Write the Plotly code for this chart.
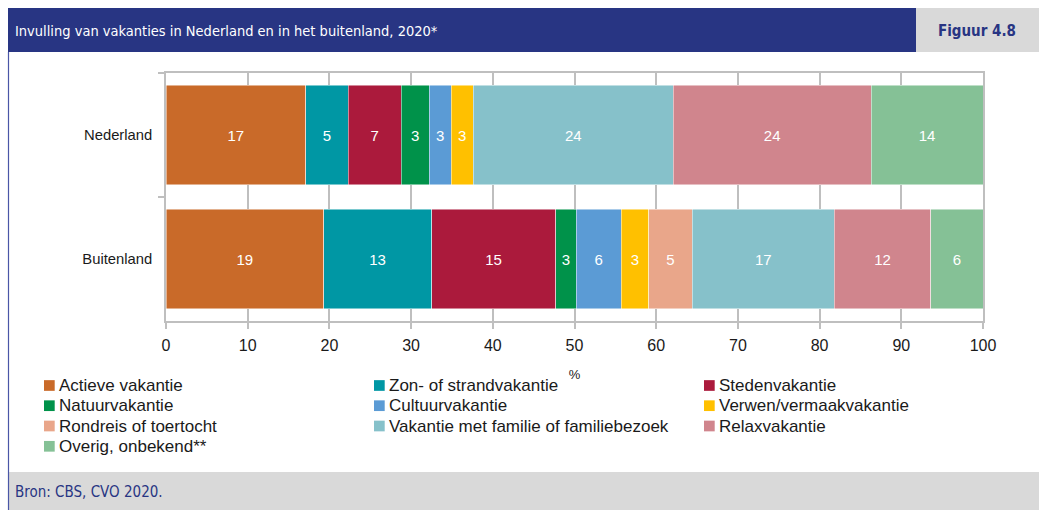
import plotly.graph_objects as go

# ---- data ----
categories = ["Nederland", "Buitenland"]
series_names = [
    "Actieve vakantie", "Zon- of strandvakantie", "Stedenvakantie",
    "Natuurvakantie", "Cultuurvakantie", "Verwen/vermaakvakantie",
    "Rondreis of toertocht", "Vakantie met familie of familiebezoek",
    "Relaxvakantie", "Overig, onbekend**",
]
nederland = [17.1, 5.2, 6.5, 3.4, 2.7, 2.7, None, 24.5, 24.2, 13.7]
buitenland = [19.3, 13.2, 15.2, 2.5, 5.5, 3.4, 5.3, 17.4, 11.8, 6.4]
nederland_labels = ["17", "5", "7", "3", "3", "3", "", "24", "24", "14"]
buitenland_labels = ["19", "13", "15", "3", "6", "3", "5", "17", "12", "6"]
x_ticks = [0, 10, 20, 30, 40, 50, 60, 70, 80, 90, 100]

colors = ["#c96a29", "#0097a4", "#ab1a3c", "#00924a", "#5b9bd5",
          "#ffc000", "#e9a68a", "#86c1ca", "#d0858d", "#85c196"]

title_text = "Invulling van vakanties in Nederland en in het buitenland, 2020*"
figure_label = "Figuur 4.8"
source_text = "Bron: CBS, CVO 2020."

# ---- geometry (window pixels; page body margin removed below) ----
W_FIG, H_FIG = 1039, 510
L, R, T, B = 166, 983, 73, 321
PW, PH = R - L, B - T


def px(xw):
    return (xw - L) / PW


def py(yw):
    return (B - yw) / PH


NAVY = "#283583"
GREY = "#d9d9d9"
FONT = "Liberation Sans, Arial, sans-serif"
NARROW = "Liberation Sans Narrow, Arial Narrow, DejaVu Sans Condensed, sans-serif"
TXT = "#1a1a1a"

fig = go.Figure()
for i, name in enumerate(series_names):
    fig.add_trace(go.Bar(
        name=name,
        y=categories,
        x=[nederland[i], buitenland[i]],
        orientation="h",
        marker=dict(color=colors[i], line=dict(color="rgba(255,255,255,0.6)", width=0.8)),
        text=[nederland_labels[i], buitenland_labels[i]],
        textposition="inside",
        insidetextanchor="middle",
        textangle=0,
        constraintext="none",
        textfont=dict(color="white", size=15, family=FONT),
        hoverinfo="x+y+name",
        showlegend=False,
    ))

fig.update_layout(
    width=W_FIG, height=H_FIG,
    barmode="stack",
    bargap=0.2,
    paper_bgcolor="white",
    plot_bgcolor="white",
    margin=dict(l=L, r=W_FIG - R, t=T, b=H_FIG - B, autoexpand=False),
    font=dict(family=FONT, color=TXT),
    showlegend=False,
    xaxis=dict(
        range=[0, 100],
        tickvals=x_ticks,
        showgrid=True, gridcolor="#bfbfbf", gridwidth=1.5,
        showline=True, linecolor="#bfbfbf", linewidth=1.5, mirror=True,
        ticks="outside", ticklen=6, tickcolor="#bfbfbf", tickwidth=1.5,
        tickfont=dict(size=16, family=FONT, color=TXT),
        ticklabelstandoff=3,
        title=dict(text="%", font=dict(size=13, family=FONT, color=TXT), standoff=17),
        zeroline=False,
        fixedrange=True,
    ),
    yaxis=dict(
        categoryorder="array", categoryarray=categories,
        autorange="reversed",
        showline=True, linecolor="#bfbfbf", linewidth=1.5, mirror=True,
        ticks="outside", ticklen=6, tickcolor="#bfbfbf", tickwidth=1.5,
        tickson="boundaries",
        tickfont=dict(size=14.8, family=FONT, color=TXT),
        ticklabelstandoff=9,
        showgrid=False,
        fixedrange=True,
    ),
)

shapes = [
    dict(type="rect", xref="paper", yref="paper", x0=px(8), x1=px(916), y0=py(52), y1=py(8),
         fillcolor=NAVY, line=dict(width=0), layer="below"),
    dict(type="rect", xref="paper", yref="paper", x0=px(916), x1=px(1050), y0=py(52), y1=py(8),
         fillcolor=GREY, line=dict(width=0), layer="below"),
    dict(type="rect", xref="paper", yref="paper", x0=px(8), x1=px(1050), y0=py(520), y1=py(472),
         fillcolor=GREY, line=dict(width=0), layer="below"),
    dict(type="line", xref="paper", yref="paper", x0=px(8.5), x1=px(8.5), y0=py(52), y1=py(520),
         line=dict(color="#4a56a6", width=1.2)),
]

annotations = [
    dict(xref="paper", yref="paper", x=px(13), y=py(31), xanchor="left", yanchor="middle",
         text=title_text, showarrow=False,
         font=dict(color="white", size=14.5, family=NARROW)),
    dict(xref="paper", yref="paper", x=px(977), y=py(31), xanchor="center", yanchor="middle",
         text="<b>" + figure_label + "</b>", showarrow=False,
         font=dict(color=NAVY, size=15, family=NARROW)),
    dict(xref="paper", yref="paper", x=px(13), y=py(492), xanchor="left", yanchor="middle",
         text=source_text, showarrow=False,
         font=dict(color=NAVY, size=15, family=NARROW)),
]

# ---- legend (3 columns, row-major) ----
col_marker_x = [44, 374, 704]
row_center_y = [385.5, 405.7, 426, 446.3]
SQ = 10.7
for i, name in enumerate(series_names):
    r, c = divmod(i, 3)
    mx = col_marker_x[c]
    cy = row_center_y[r]
    shapes.append(dict(type="rect", xref="paper", yref="paper",
                       x0=px(mx), x1=px(mx + SQ), y0=py(cy + SQ / 2), y1=py(cy - SQ / 2),
                       fillcolor=colors[i], line=dict(width=0)))
    annotations.append(dict(xref="paper", yref="paper", x=px(mx + SQ + 2.5), y=py(cy),
                            xanchor="left", yanchor="middle", text=name, showarrow=False,
                            font=dict(size=17, family=FONT, color=TXT)))

fig.update_layout(shapes=shapes, annotations=annotations)

fig.write_html(
    "out.html",
    config={"displayModeBar": False},
    post_script="document.body.style.margin='0';"
                "document.documentElement.style.overflow='hidden';"
                "document.body.style.overflow='hidden';",
)
